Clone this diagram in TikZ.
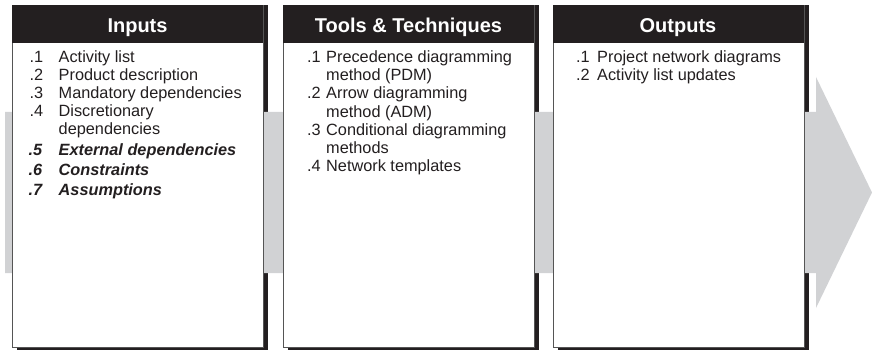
\documentclass[tikz,border=0pt]{standalone}
\usepackage{fontspec}
\setmainfont{Liberation Sans}
\definecolor{ink}{RGB}{35,31,32}
\definecolor{band}{RGB}{209,210,212}
\definecolor{edge}{RGB}{85,85,85}
\tikzset{
 txt/.style={anchor=base west, inner sep=0pt, font=\fontsize{16.3}{18}\selectfont, text=ink},
 btxt/.style={txt, font=\fontsize{16.3}{18}\selectfont\bfseries\itshape},
 head/.style={anchor=base, inner sep=0pt, font=\fontsize{20}{24}\selectfont\bfseries, text=white},
 shadowbox/.style={fill=ink},
 panel/.style={fill=white, draw=edge, line width=0.9pt},
 headbar/.style={fill=ink},
}
\begin{document}
\begin{tikzpicture}[x=1pt,y=-1pt]
\useasboundingbox (0,0) rectangle (872,350);
% drop shadows
\foreach \l in {12,283,553}{
  \fill[shadowbox] (\l+5,5) rectangle (\l+256,352);
}
% grey process arrow
\fill[band] (5,112) -- (816,112) -- (816,77) -- (872,192.5) -- (816,308) -- (816,273) -- (5,273) -- cycle;
% panels
\foreach \l in {12,283,553}{
  \filldraw[panel] (\l,5) rectangle (\l+251,347.5);
  \fill[headbar] (\l,5) rectangle (\l+251,43);
}
% headers
\node[head] (hin) at (137.5,33) {Inputs};
\node[head] (htt) at (408.5,33) {Tools \& Techniques};
\node[head] (hout) at (678,33) {Outputs};
% Inputs
\node[txt] (in1n) at (29.5,63) {.1};
\node[txt] (in1t) at (58.5,63) {Activity list};
\node[txt] (in2n) at (29.5,81) {.2};
\node[txt] (in2t) at (58.5,81) {Product description};
\node[txt] (in3n) at (29.5,99) {.3};
\node[txt] (in3t) at (58.5,99) {Mandatory dependencies};
\node[txt] (in4n) at (29.5,117) {.4};
\node[txt] (in4t) at (58.5,117) {Discretionary};
\node[txt] (in4u) at (58.5,135) {dependencies};
\node[btxt] (in5n) at (28.5,155) {.5};
\node[btxt] (in5t) at (58.5,155) {External dependencies};
\node[btxt] (in6n) at (28.5,175) {.6};
\node[btxt] (in6t) at (58.5,175) {Constraints};
\node[btxt] (in7n) at (28.5,195) {.7};
\node[btxt] (in7t) at (58.5,195) {Assumptions};
% Tools & Techniques
\node[txt] (tt1n) at (307,62.5) {.1};
\node[txt] (tt1t) at (326,62.5) {Precedence diagramming};
\node[txt] (tt1u) at (326,80.7) {method (PDM)};
\node[txt] (tt2n) at (307,98.9) {.2};
\node[txt] (tt2t) at (326,98.9) {Arrow diagramming};
\node[txt] (tt2u) at (326,117.1) {method (ADM)};
\node[txt] (tt3n) at (307,135.3) {.3};
\node[txt] (tt3t) at (326,135.3) {Conditional diagramming};
\node[txt] (tt3u) at (326,153.5) {methods};
\node[txt] (tt4n) at (307,171.7) {.4};
\node[txt] (tt4t) at (326,171.7) {Network templates};
% Outputs
\node[txt] (ou1n) at (576,63) {.1};
\node[txt] (ou1t) at (597,63) {Project network diagrams};
\node[txt] (ou2n) at (576,81) {.2};
\node[txt] (ou2t) at (597,81) {Activity list updates};
\end{tikzpicture}
\end{document}
